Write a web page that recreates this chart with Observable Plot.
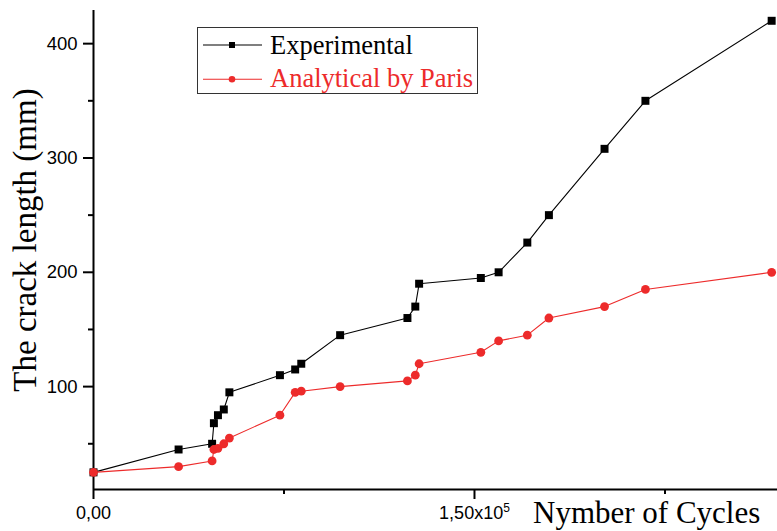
<!DOCTYPE html>
<html><head><meta charset="utf-8">
<script src="https://cdn.jsdelivr.net/npm/d3@7"></script>
<script src="https://cdn.jsdelivr.net/npm/@observablehq/plot@0.6"></script>
<style>
body{margin:0;background:#fff;}
#wrap{position:relative;width:777px;height:531px;}
#legend{position:absolute;left:0;top:0;pointer-events:none;}
</style></head>
<body><div id="wrap"></div>
<script>
// ---- data ----
const cycles = [0, 33500, 46700, 47400, 49000, 51300, 53500, 73400, 79400, 81800, 97100, 123600, 126700, 128200, 152500, 159500, 170800, 179300, 201200, 217300, 267000];
const experimental = [25, 45, 50, 68, 75, 80, 95, 110, 115, 120, 145, 160, 170, 190, 195, 200, 226, 250, 308, 350, 420];
const analytical = [25, 30, 35, 45, 46, 50, 55, 75, 95, 96, 100, 105, 110, 120, 130, 140, 145, 160, 170, 185, 200];
const seriesNames = ["Experimental", "Analytical by Paris"];
const seriesColors = ["#000000", "#ed2b2b"];
const xTicks = [0, 150000];
const xTickLabels = ["0,00", "1,50x10^5"];
const xMinorTicks = [75000, 225000];
const yTicks = [100, 200, 300, 400];
const yMinorTicks = [50, 150, 250, 350];
const xDomain = [0, 269300];
const yDomain = [10, 429];
const xTitle = "Nymber of Cycles";
const yTitle = "The crack length (mm)";

const exp = cycles.map((c, i) => ({cycles: c, value: experimental[i]}));
const ana = cycles.map((c, i) => ({cycles: c, value: analytical[i]}));

const W = 777, H = 531;
const chart = Plot.plot({
  width: W, height: H,
  marginLeft: 93, marginRight: 0, marginTop: 10, marginBottom: 42,
  style: {fontFamily: "'Liberation Sans', Arial, sans-serif", fontSize: "18px", color: "#000", background: "#fff"},
  x: {domain: xDomain, axis: null},
  y: {domain: yDomain, axis: null},
  marks: [
    Plot.ruleX([xDomain[0]], {stroke: "#000", strokeWidth: 2}),
    Plot.ruleY([yDomain[0]], {stroke: "#000", strokeWidth: 2}),
    Plot.axisY(yTicks, {label: null, tickSize: 10, tickPadding: 6, strokeWidth: 2, tickFormat: d => String(d), fontSize: 18.5}),
    Plot.axisY(yMinorTicks, {label: null, tickSize: 5, strokeWidth: 2, tickFormat: () => ""}),
    Plot.axisX(xTicks, {label: null, tickSize: 10, tickPadding: 7, strokeWidth: 2, tickFormat: d => xTickLabels[xTicks.indexOf(d)], fontSize: 18}),
    Plot.axisX(xMinorTicks, {label: null, tickSize: 5, strokeWidth: 2, tickFormat: () => ""}),
    Plot.line(exp, {x: "cycles", y: "value", stroke: seriesColors[0], strokeWidth: 1.1}),
    Plot.dot(exp, {x: "cycles", y: "value", symbol: "square", fill: seriesColors[0], r: 4.5}),
    Plot.line(ana, {x: "cycles", y: "value", stroke: seriesColors[1], strokeWidth: 1.1}),
    Plot.dot(ana, {x: "cycles", y: "value", symbol: "circle", fill: seriesColors[1], r: 4.4})
  ]
});
document.getElementById("wrap").appendChild(chart);

const svg = d3.select(chart);
// superscript exponent in tick labels
svg.selectAll("text").each(function() {
  const t = this.textContent;
  if (t.includes("^")) {
    const [base, exp5] = t.split("^");
    const sel = d3.select(this);
    sel.text(null);
    sel.append("tspan").text(base);
    sel.append("tspan").attr("dy", "-7").attr("font-size", "12px").text(exp5);
  }
});
// axis titles
svg.append("text")
  .attr("transform", "translate(36,240) rotate(-90)")
  .attr("text-anchor", "middle")
  .attr("font-family", "'Liberation Serif','Times New Roman',serif")
  .attr("font-size", 33).attr("fill", "#000")
  .text(yTitle);
svg.append("text")
  .attr("x", 533).attr("y", 523)
  .attr("text-anchor", "start")
  .attr("font-family", "'Liberation Serif','Times New Roman',serif")
  .attr("font-size", 31).attr("fill", "#000")
  .text(xTitle);

// legend overlay
const lg = d3.select("#wrap").append("svg").attr("id", "legend").attr("width", W).attr("height", H);
const g = lg.append("g").attr("transform", "translate(197,27)");
g.append("rect").attr("x", 0.5).attr("y", 0.5).attr("width", 280).attr("height", 66)
  .attr("fill", "#fff").attr("stroke", "#333").attr("stroke-width", 1);
const rows = [18, 52.3];
const base = [26.5, 60];
seriesNames.forEach((name, i) => {
  const row = g.append("g");
  row.append("line").attr("x1", 6).attr("x2", 65).attr("y1", rows[i]).attr("y2", rows[i])
    .attr("stroke", seriesColors[i]).attr("stroke-width", 1.1);
  if (i === 0) row.append("rect").attr("x", 35 - 3).attr("y", rows[i] - 3).attr("width", 6).attr("height", 6).attr("fill", seriesColors[i]);
  else row.append("circle").attr("cx", 35).attr("cy", rows[i]).attr("r", 3.3).attr("fill", seriesColors[i]);
  row.append("text").attr("x", 73).attr("y", base[i])
    .attr("font-family", "'Liberation Serif','Times New Roman',serif")
    .attr("font-size", 26.5).attr("fill", seriesColors[i]).text(name);
});
</script>
</body></html>
